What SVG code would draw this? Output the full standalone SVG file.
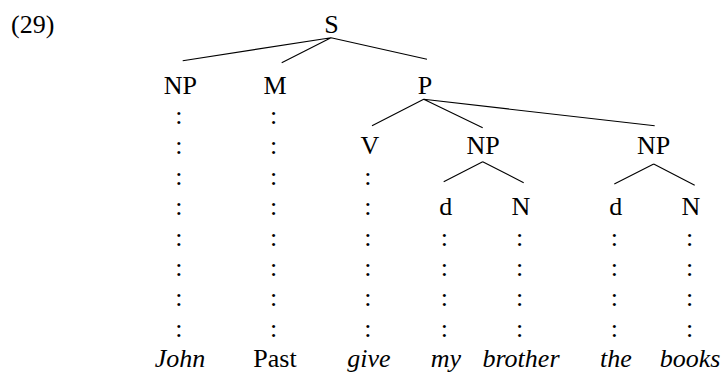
<svg xmlns="http://www.w3.org/2000/svg" width="724" height="374" viewBox="0 0 724 374">
  <rect width="724" height="374" fill="#fff"/>
  <text x="11" y="33" font-size="26" font-family="Liberation Serif">(29)</text>
  <!-- tree edges and the dotted columns under each category -->
  <g id="connectors">
    <g stroke="#000" stroke-width="1.1" fill="none">
      <path d="M331,37.7 L182.7,60.7 M331,37.7 L281.7,62.7 M331,37.7 L427,59.3"/>
      <path d="M423.7,99.3 L372,125.7 M423.7,99.3 L482.7,127.7 M423.7,99.3 L654.7,125.7"/>
      <path d="M482.7,161.7 L443.7,181.7 M482.7,161.7 L523.7,182.7"/>
      <path d="M653.7,164 L614.3,184 M653.7,164 L694.7,185.3"/>
    </g>
    <text x="175.3" y="124" font-size="26" font-family="Liberation Serif">:</text>
    <text x="175.3" y="154.4" font-size="26" font-family="Liberation Serif">:</text>
    <text x="175.3" y="184.8" font-size="26" font-family="Liberation Serif">:</text>
    <text x="175.3" y="215.2" font-size="26" font-family="Liberation Serif">:</text>
    <text x="175.3" y="245.6" font-size="26" font-family="Liberation Serif">:</text>
    <text x="175.3" y="276" font-size="26" font-family="Liberation Serif">:</text>
    <text x="175.3" y="306.4" font-size="26" font-family="Liberation Serif">:</text>
    <text x="175.3" y="336.8" font-size="26" font-family="Liberation Serif">:</text>
    <text x="270" y="124" font-size="26" font-family="Liberation Serif">:</text>
    <text x="270" y="154.4" font-size="26" font-family="Liberation Serif">:</text>
    <text x="270" y="184.8" font-size="26" font-family="Liberation Serif">:</text>
    <text x="270" y="215.2" font-size="26" font-family="Liberation Serif">:</text>
    <text x="270" y="245.6" font-size="26" font-family="Liberation Serif">:</text>
    <text x="270" y="276" font-size="26" font-family="Liberation Serif">:</text>
    <text x="270" y="306.4" font-size="26" font-family="Liberation Serif">:</text>
    <text x="270" y="336.8" font-size="26" font-family="Liberation Serif">:</text>
    <text x="364.3" y="184.8" font-size="26" font-family="Liberation Serif">:</text>
    <text x="364.3" y="215.2" font-size="26" font-family="Liberation Serif">:</text>
    <text x="364.3" y="245.6" font-size="26" font-family="Liberation Serif">:</text>
    <text x="364.3" y="276" font-size="26" font-family="Liberation Serif">:</text>
    <text x="364.3" y="306.4" font-size="26" font-family="Liberation Serif">:</text>
    <text x="364.3" y="336.8" font-size="26" font-family="Liberation Serif">:</text>
    <text x="440.7" y="245.6" font-size="26" font-family="Liberation Serif">:</text>
    <text x="440.7" y="276" font-size="26" font-family="Liberation Serif">:</text>
    <text x="440.7" y="306.4" font-size="26" font-family="Liberation Serif">:</text>
    <text x="440.7" y="336.8" font-size="26" font-family="Liberation Serif">:</text>
    <text x="516" y="245.6" font-size="26" font-family="Liberation Serif">:</text>
    <text x="516" y="276" font-size="26" font-family="Liberation Serif">:</text>
    <text x="516" y="306.4" font-size="26" font-family="Liberation Serif">:</text>
    <text x="516" y="336.8" font-size="26" font-family="Liberation Serif">:</text>
    <text x="610.7" y="245.6" font-size="26" font-family="Liberation Serif">:</text>
    <text x="610.7" y="276" font-size="26" font-family="Liberation Serif">:</text>
    <text x="610.7" y="306.4" font-size="26" font-family="Liberation Serif">:</text>
    <text x="610.7" y="336.8" font-size="26" font-family="Liberation Serif">:</text>
    <text x="686" y="245.6" font-size="26" font-family="Liberation Serif">:</text>
    <text x="686" y="276" font-size="26" font-family="Liberation Serif">:</text>
    <text x="686" y="306.4" font-size="26" font-family="Liberation Serif">:</text>
    <text x="686" y="336.8" font-size="26" font-family="Liberation Serif">:</text>
  </g>
  <!-- category nodes -->
  <g id="node-S"><text x="331.5" y="33.2" font-size="26" font-family="Liberation Serif" text-anchor="middle">S</text></g>
  <g id="node-NP-subj"><text x="180.3" y="93.6" font-size="26" font-family="Liberation Serif" text-anchor="middle">NP</text></g>
  <g id="node-M"><text x="275" y="93.6" font-size="26" font-family="Liberation Serif" text-anchor="middle">M</text></g>
  <g id="node-P"><text x="425" y="93.6" font-size="26" font-family="Liberation Serif" text-anchor="middle">P</text></g>
  <g id="node-V"><text x="369.8" y="154.4" font-size="26" font-family="Liberation Serif" text-anchor="middle">V</text></g>
  <g id="node-NP-1"><text x="483" y="154.4" font-size="26" font-family="Liberation Serif" text-anchor="middle">NP</text></g>
  <g id="node-NP-2"><text x="653.7" y="154.4" font-size="26" font-family="Liberation Serif" text-anchor="middle">NP</text></g>
  <g id="node-d-1"><text x="445.7" y="215.2" font-size="26" font-family="Liberation Serif" text-anchor="middle">d</text></g>
  <g id="node-N-1"><text x="521" y="215.2" font-size="26" font-family="Liberation Serif" text-anchor="middle">N</text></g>
  <g id="node-d-2"><text x="615.7" y="215.2" font-size="26" font-family="Liberation Serif" text-anchor="middle">d</text></g>
  <g id="node-N-2"><text x="691" y="215.2" font-size="26" font-family="Liberation Serif" text-anchor="middle">N</text></g>
  <!-- terminal words -->
  <g id="word-John"><text x="180" y="367.4" font-size="26" font-family="Liberation Serif" font-style="italic" text-anchor="middle">John</text></g>
  <g id="word-Past"><text x="275" y="367.4" font-size="26" font-family="Liberation Serif" text-anchor="middle">Past</text></g>
  <g id="word-give"><text x="369" y="367.4" font-size="26" font-family="Liberation Serif" font-style="italic" text-anchor="middle">give</text></g>
  <g id="word-my"><text x="446" y="367.4" font-size="26" font-family="Liberation Serif" font-style="italic" text-anchor="middle">my</text></g>
  <g id="word-brother"><text x="521" y="367.4" font-size="26" font-family="Liberation Serif" font-style="italic" text-anchor="middle">brother</text></g>
  <g id="word-the"><text x="616" y="367.4" font-size="26" font-family="Liberation Serif" font-style="italic" text-anchor="middle">the</text></g>
  <g id="word-books"><text x="690" y="367.4" font-size="26" font-family="Liberation Serif" font-style="italic" text-anchor="middle">books</text></g>
</svg>
